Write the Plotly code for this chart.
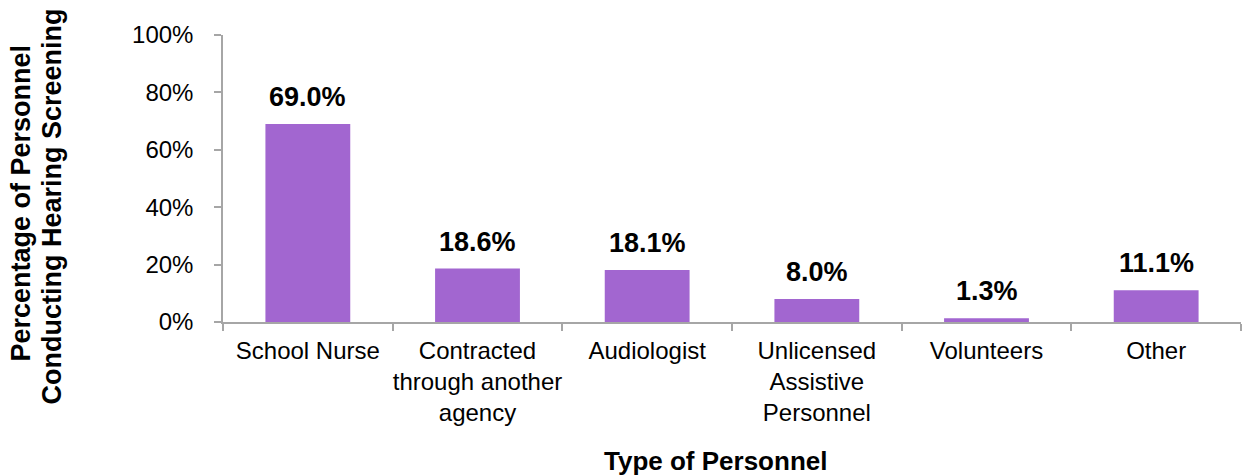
import plotly.graph_objects as go

categories = [
    "School Nurse",
    "Contracted<br>through another<br>agency",
    "Audiologist",
    "Unlicensed<br>Assistive<br>Personnel",
    "Volunteers",
    "Other",
]
values = [69.0, 18.6, 18.1, 8.0, 1.3, 11.1]
y_ticks = [0, 20, 40, 60, 80, 100]
y_tick_labels = ["0%", "20%", "40%", "60%", "80%", "100%"]
x_title = "Type of Personnel"
y_title_lines = ["Percentage of Personnel", "Conducting Hearing Screening"]

W, H = 1245, 475
ML, MR, MT, MB = 223, 4, 35, 153
PW, PH = W - ML - MR, H - MT - MB

FONT = "Liberation Sans, Arial, sans-serif"
BAR = "#A266D0"
AXIS = "#A6A6A6"


def px_x(px):
    return (px - ML) / PW


def px_y(py):
    return (H - MB - py) / PH


fig = go.Figure(
    go.Bar(
        x=categories,
        y=values,
        width=0.5,
        marker=dict(color=BAR, line=dict(width=0)),
        hoverinfo="skip",
    )
)

annotations = []
# value labels above each bar
for cat, v in zip(categories, values):
    annotations.append(
        dict(
            x=cat, y=v, xref="x", yref="y",
            text=f"<b>{v:.1f}%</b>",
            showarrow=False, yanchor="bottom", yshift=10,
            font=dict(family=FONT, size=27, color="black"),
        )
    )

# two-line rotated y-axis title
for text, cx, cy in zip(y_title_lines, [20.5, 51.5], [203, 207]):
    annotations.append(
        dict(
            x=px_x(cx), y=px_y(cy), xref="paper", yref="paper",
            text=f"<b>{text}</b>", textangle=-90,
            showarrow=False, xanchor="center", yanchor="middle",
            font=dict(family=FONT, size=27, color="black"),
        )
    )

# x-axis title
annotations.append(
    dict(
        x=px_x(715), y=px_y(461), xref="paper", yref="paper",
        text=f"<b>{x_title}</b>",
        showarrow=False, xanchor="center", yanchor="middle",
        font=dict(family=FONT, size=26, color="black"),
    )
)

fig.update_layout(
    width=W, height=H,
    margin=dict(l=ML, r=MR, t=MT, b=MB, pad=0, autoexpand=False),
    paper_bgcolor="white", plot_bgcolor="white",
    showlegend=False,
    font=dict(family=FONT, color="black"),
    annotations=annotations,
    bargap=0.5,
)

fig.update_xaxes(
    type="category", automargin=False, tickangle=0,
    showline=True, linecolor=AXIS, linewidth=1.5,
    ticks="outside", tickson="boundaries", ticklen=7, tickcolor=AXIS, tickwidth=1.5,
    tickfont=dict(family=FONT, size=24, color="black"),
    showgrid=False, zeroline=False,
    ticklabelstandoff=6,
)
fig.update_yaxes(
    range=[0, 100], automargin=False,
    tickvals=y_ticks, ticktext=y_tick_labels,
    showline=True, linecolor=AXIS, linewidth=1.5,
    ticks="outside", ticklen=7, tickcolor=AXIS, tickwidth=1.5,
    tickfont=dict(family=FONT, size=24, color="black"),
    showgrid=False, zeroline=False,
    ticklabelstandoff=16,
)

fig.write_html("out.html", config={"displayModeBar": False})
